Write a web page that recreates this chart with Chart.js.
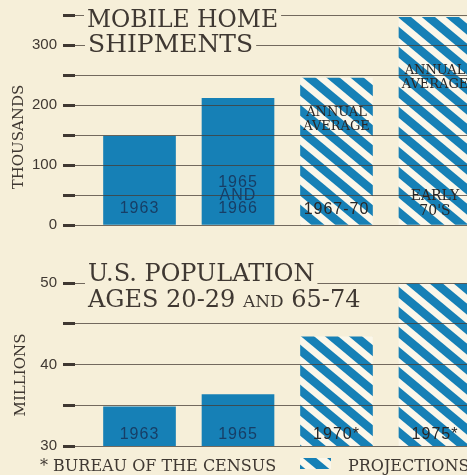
<!DOCTYPE html>
<html><head><meta charset="utf-8">
<script src="https://cdn.jsdelivr.net/npm/chart.js@4.4.1/dist/chart.umd.min.js"></script>
<style>
html,body{margin:0;padding:0;background:#f6efd9;width:467px;height:475px;overflow:hidden;position:relative}
canvas{position:absolute;left:0}
#c1{top:0}
#c2{top:240px}
</style></head><body>
<canvas id="c1" width="467" height="240"></canvas>
<canvas id="c2" width="467" height="235"></canvas>
<script>
// ---------- data ----------
const shipCategories = ['1963', '1965 and 1966', '1967-70', "Early 70's"];
const shipValues = [148, 211, 245, 346];
const shipProjected = [false, false, true, true];
const shipTickLabels = [0, 100, 200, 300];
const shipTitle = ['MOBILE HOME', 'SHIPMENTS'];
const shipAxisTitle = 'THOUSANDS';
const shipLabelsLow = [['1963'], ['1965', 'AND', '1966'], ['1967-70'], ['EARLY', "70'S"]];
const shipLabelsHigh = [[], [], ['ANNUAL', 'AVERAGE'], ['ANNUAL', 'AVERAGE']];

const popCategories = ['1963', '1965', '1970*', '1975*'];
const popValues = [34.8, 36.3, 43.4, 49.9];
const popProjected = [false, false, true, true];
const popTickLabels = [30, 40, 50];
const popTitle1 = 'U.S. POPULATION';
const popTitle2 = ['AGES 20-29 ', 'AND', ' 65-74'];
const popAxisTitle = 'MILLIONS';
const popLabelsLow = [['1963'], ['1965'], ['1970*'], ['1975*']];

const footnote = '* BUREAU OF THE CENSUS';
const legendLabel = 'PROJECTIONS';

// ---------- styles ----------
const BLUE = '#1680b6';
const BG = '#f6efd9';
const INK = '#3f3832';
const SERIF = '"DejaVu Serif", serif';
const HAND = '"Liberation Sans", Arial, sans-serif';
const BARINK = '#173e66';
const DARK = '#2a2726';

function makeStripes(ctx) {
  const Px = 24, Py = 20;
  const c = document.createElement('canvas');
  c.width = Px; c.height = Py;
  const g = c.getContext('2d');
  g.fillStyle = '#fbf7ea'; g.fillRect(0, 0, Px, Py);
  g.strokeStyle = BLUE; g.lineWidth = 8.5;
  for (const dx of [-Px, 0, Px]) {
    g.beginPath(); g.moveTo(dx - Px, -Py); g.lineTo(dx + 2 * Px, 2 * Py); g.stroke();
  }
  return ctx.createPattern(c, 'repeat');
}

function drawLines(ctx, lines, x, yc, lh, font, color, ls) {
  ctx.save();
  ctx.font = font; ctx.fillStyle = color; ctx.textAlign = 'center'; ctx.textBaseline = 'middle';
  if (ls) ctx.letterSpacing = ls;
  const n = lines.length;
  lines.forEach((t, k) => ctx.fillText(t, x, yc + (k - (n - 1) / 2) * lh));
  ctx.restore();
}

// segments: [{text, size}]
function maskedTitle(ctx, segs, x, baseline) {
  ctx.save();
  let w = 0, maxCap = 0;
  segs.forEach(s => { ctx.font = s.size + 'px ' + SERIF; s.w = ctx.measureText(s.text).width; w += s.w; maxCap = Math.max(maxCap, s.size * 0.73); });
  ctx.fillStyle = BG;
  ctx.fillRect(x - 3, baseline - maxCap - 4, w + 6, maxCap + 8);
  ctx.fillStyle = INK; ctx.textBaseline = 'alphabetic'; ctx.textAlign = 'left';
  let cx = x;
  segs.forEach(s => { ctx.font = s.size + 'px ' + SERIF; ctx.fillText(s.text, cx, baseline); cx += s.w; });
  ctx.restore();
}

function axisTitle(ctx, text, x, y) {
  ctx.save();
  ctx.translate(x, y); ctx.rotate(-Math.PI / 2);
  ctx.font = '15px ' + SERIF; ctx.fillStyle = INK; ctx.textAlign = 'center'; ctx.textBaseline = 'middle';
  ctx.fillText(text, 0, 0);
  ctx.restore();
}

const decor = {
  id: 'decor',
  afterDraw(chart, args, o) {
    const ctx = chart.ctx;
    const ys = chart.scales.y;
    const bars = chart.getDatasetMeta(0).data;
    o.draw(ctx, ys, bars, chart);
  }
};

function yAxis(min, max, step, labels) {
  return {
    min, max,
    afterFit(s) { s.width = 75; },
    ticks: {
      stepSize: step,
      callback: v => labels.includes(v) ? String(v) : '',
      font: { family: HAND, size: 15 }, color: INK, padding: 6
    },
    grid: { z: 1, color: 'rgba(70,60,52,0.75)', lineWidth: 1, tickLength: 12, tickWidth: 3, tickColor: INK },
    border: { display: false }
  };
}

const ctx1 = document.getElementById('c1').getContext('2d');
const stripe1 = makeStripes(ctx1);
new Chart(ctx1, {
  type: 'bar',
  data: {
    labels: shipCategories,
    datasets: [{
      data: shipValues.map((v, i) => ({ x: i + 1, y: v })),
      backgroundColor: shipProjected.map(p => p ? stripe1 : BLUE),
      borderWidth: 0, barThickness: 72
    }]
  },
  options: {
    responsive: false, animation: false, devicePixelRatio: 1,
    layout: { padding: { top: 10, bottom: 10, left: 0, right: 0 } },
    scales: {
      x: { type: 'linear', offset: false, min: 0.345, max: 4.325, display: false },
      y: yAxis(0, 350, 50, shipTickLabels)
    },
    plugins: {
      legend: { display: false }, tooltip: { enabled: false },
      decor: {
        draw(ctx, ys, bars) {
          const lowAt = [27, 49, 25, 36];
          const highAt = [0, 0, 175, 246];
          bars.forEach((b, i) => {
            const low = shipLabelsLow[i];
            if (shipProjected[i]) {
              if (i === 2) drawLines(ctx, low, b.x, ys.getPixelForValue(lowAt[i]), 14, '16px ' + HAND, DARK, '1px');
              else drawLines(ctx, low, b.x, ys.getPixelForValue(lowAt[i]), 15, '14px ' + SERIF, DARK);
              drawLines(ctx, shipLabelsHigh[i], b.x, ys.getPixelForValue(highAt[i]), 14, '13px ' + SERIF, DARK);
            } else {
              drawLines(ctx, low, b.x, ys.getPixelForValue(lowAt[i]), 13, '16px ' + HAND, BARINK, '1px');
            }
          });
          maskedTitle(ctx, [{ text: shipTitle[0], size: 23.5 }], 87, 27);
          maskedTitle(ctx, [{ text: shipTitle[1], size: 25 }], 88, 52);
          axisTitle(ctx, shipAxisTitle, 19, 137);
        }
      }
    }
  },
  plugins: [decor]
});

const ctx2 = document.getElementById('c2').getContext('2d');
const stripe2 = makeStripes(ctx2);
new Chart(ctx2, {
  type: 'bar',
  data: {
    labels: popCategories,
    datasets: [{
      data: popValues.map((v, i) => ({ x: i + 1, y: v })),
      backgroundColor: popProjected.map(p => p ? stripe2 : BLUE),
      borderWidth: 0, barThickness: 72
    }]
  },
  options: {
    responsive: false, animation: false, devicePixelRatio: 1,
    layout: { padding: { top: 43, bottom: 29, left: 0, right: 0 } },
    scales: {
      x: { type: 'linear', offset: false, min: 0.345, max: 4.325, display: false },
      y: yAxis(30, 50, 5, popTickLabels)
    },
    plugins: {
      legend: { display: false }, tooltip: { enabled: false },
      decor: {
        draw(ctx, ys, bars, chart) {
          bars.forEach((b, i) => {
            const col = popProjected[i] ? DARK : BARINK;
            drawLines(ctx, popLabelsLow[i], b.x, ys.getPixelForValue(31.4), 13, '16px ' + HAND, col, '1px');
          });
          maskedTitle(ctx, [{ text: popTitle1, size: 24 }], 88, 41);
          maskedTitle(ctx, [{ text: popTitle2[0], size: 24 }, { text: popTitle2[1], size: 17 }, { text: popTitle2[2], size: 24 }], 88, 67);
          axisTitle(ctx, popAxisTitle, 21, 135);
          // footnote
          ctx.save();
          ctx.font = '16px ' + SERIF; ctx.fillStyle = INK; ctx.textBaseline = 'alphabetic';
          ctx.fillText(footnote, 40, 231);
          // legend swatch + label
          ctx.fillStyle = popProjected.includes(true) ? stripe2 : BLUE;
          ctx.fillRect(300, 218, 31, 11);
          ctx.fillStyle = INK;
          ctx.fillText(legendLabel, 348, 231);
          ctx.restore();
        }
      }
    }
  },
  plugins: [decor]
});
</script>
</body></html>
